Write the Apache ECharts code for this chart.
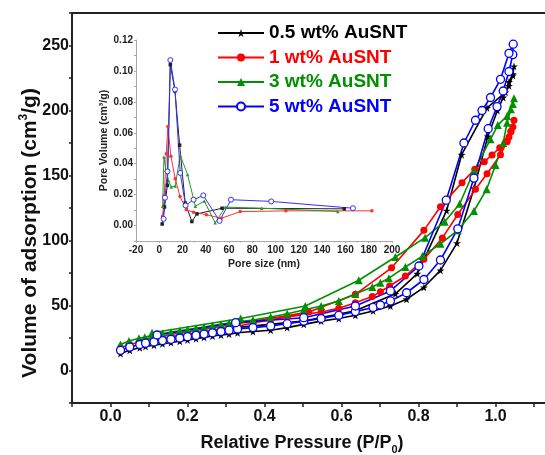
<!DOCTYPE html>
<html>
<head>
<meta charset="utf-8">
<script src="https://cdn.jsdelivr.net/npm/echarts@6/dist/echarts.min.js"></script>
<style>html,body{margin:0;padding:0;background:#fff;}#c{width:545px;height:455px;}</style>
</head>
<body>
<div id="c"></div>
<script>
// ---------- data: main isotherms [P/P0, volume] (adsorption then desorption) ----------
const names = ['0.5 wt% AuSNT', '1 wt% AuSNT', '3 wt% AuSNT', '5 wt% AuSNT'];

const ads05 = [[0.026,13],[0.05,15.5],[0.076,17.5],[0.091,18.5],[0.113,19.5],[0.135,20.5],[0.157,21.5],[0.18,22.5],[0.2,23.5],[0.222,24.5],[0.243,25.5],[0.265,26.5],[0.287,27.3],[0.308,28],[0.33,29],[0.37,30],[0.416,31],[0.459,33],[0.502,35.5],[0.547,38],[0.593,40],[0.636,42.5],[0.682,45.8],[0.727,49.6],[0.769,54.8],[0.814,64],[0.857,77],[0.9,98],[0.944,140],[0.98,180],[1.005,200],[1.02,210],[1.035,219],[1.045,227],[1.048,234]];
const des05 = [[1.045,228],[1.035,222],[1.026,214],[0.978,202],[0.912,166],[0.873,123],[0.797,74.5],[0.74,59],[0.636,46],[0.502,38],[0.325,33],[0.12,24]];

const ads1 = [[0.026,17.5],[0.05,20],[0.076,22],[0.091,23],[0.113,24],[0.135,25],[0.157,26],[0.18,27],[0.2,28],[0.222,29],[0.243,30],[0.265,31],[0.287,32],[0.308,33],[0.33,34],[0.37,36.5],[0.416,38.8],[0.459,41.2],[0.502,43],[0.547,45],[0.593,47.8],[0.636,52.2],[0.68,57],[0.701,60.6],[0.725,65],[0.766,72.7],[0.814,85.5],[0.862,102],[0.902,120],[0.948,139.4],[0.978,151.4],[1.013,166],[1.03,176],[1.04,184],[1.048,192.5]];
const des1 = [[1.045,187.3],[1.04,183.7],[1.035,179.6],[1.03,176.5],[1.011,171.4],[0.991,165.8],[0.971,160.6],[0.946,154.8],[0.913,144.5],[0.857,126],[0.814,107.8],[0.73,79],[0.636,58.6],[0.515,45],[0.33,36],[0.12,26]];

const ads3 = [[0.026,20],[0.048,22.7],[0.074,24.8],[0.089,25.5],[0.106,27],[0.135,28.5],[0.157,29.5],[0.18,30.5],[0.2,31.5],[0.222,32.5],[0.243,33.5],[0.265,34.5],[0.287,35.5],[0.308,36.5],[0.33,37.5],[0.37,38.8],[0.416,41.2],[0.459,43.7],[0.502,46.5],[0.547,49.6],[0.593,53.5],[0.636,58.8],[0.68,64.2],[0.701,67.5],[0.723,71],[0.766,79.6],[0.81,88],[0.857,97.5],[0.902,107.8],[0.944,122.7],[0.977,139.4],[1.0,158],[1.02,175],[1.03,190.6],[1.04,200.9],[1.048,209.4]];
const des3 = [[1.045,205],[1.03,195.8],[1.006,188.8],[0.987,177.8],[0.944,153.5],[0.907,128.3],[0.868,114.5],[0.817,102.2],[0.74,87.3],[0.645,69.4],[0.506,49.6],[0.338,40],[0.108,29]];

const ads5 = [[0.026,15.5],[0.05,18],[0.076,20],[0.091,21],[0.113,22],[0.135,23],[0.157,24],[0.18,25],[0.2,26],[0.222,27],[0.243,28],[0.265,29],[0.287,30],[0.308,31],[0.33,32],[0.37,33],[0.416,34.3],[0.459,36],[0.502,38],[0.547,40],[0.593,42.5],[0.636,45.3],[0.682,48.5],[0.701,50.4],[0.727,53.5],[0.769,59.8],[0.814,70],[0.857,85],[0.902,109],[0.944,148],[0.981,186],[1.004,203],[1.02,215],[1.035,230],[1.045,243],[1.046,251]];
const des5 = [[1.035,244],[1.013,224],[0.987,210],[0.965,200],[0.948,192.5],[0.918,175],[0.872,131],[0.801,80.4],[0.727,61.2],[0.636,49.6],[0.502,40.6],[0.325,36.8],[0.121,27.3]];

// ---------- data: inset pore size distribution [pore size nm, pore volume] ----------
const pore05 = [[2.5,0.001],[4.5,0.012],[7,0.026],[9.5,0.104],[13.5,0.087],[17.5,0.052],[22.3,0.0145],[28,0.0026],[32.4,0.0075],[54,0.0112],[159,0.0108]];
const pore1 = [[2.9,0.006],[4.3,0.0195],[6,0.0465],[7.4,0.064],[10,0.0448],[13.7,0.0303],[17.8,0.0188],[23.2,0.0102],[29.5,0.0086],[40.5,0.007],[53.3,0.0047],[69.6,0.009],[108.8,0.0095],[182.7,0.0095]];
const pore3 = [[2.9,0.0125],[4,0.0443],[5.7,0.036],[8,0.029],[10.3,0.0249],[13.7,0.0255],[18,0.0454],[24.3,0.033],[31,0.0125],[38.7,0.0158],[48,0.0018],[56.7,0.0119],[88,0.0112],[153.5,0.0091]];
const pore5 = [[3.7,0.0043],[4.9,0.018],[7.1,0.035],[9.5,0.107],[13.5,0.088],[18,0.034],[22.6,0.013],[29.5,0.0167],[37.8,0.0195],[51.8,0.003],[61.6,0.0167],[96.2,0.0156],[166.4,0.0112]];

const colors = ['#000000', '#ff0000', '#009000', '#0000ff'];
const insetColors = ['#222222', '#ff3030', '#2a9a2a', '#3030ff'];

// ---------- chart ----------
const FONT = '"Liberation Sans", Arial, sans-serif';
const chart = echarts.init(document.getElementById('c'), null, {renderer: 'canvas'});

const mainData = [ads05.concat(des05), ads1.concat(des1), ads3.concat(des3), ads5.concat(des5)];
const insetData = [pore05, pore1, pore3, pore5];
const mainSym = [
  {symbol: 'path://M50,0 L61,35 L98,35 L68,57 L79,91 L50,70 L21,91 L32,57 L2,35 L39,35 Z', size: 8, fill: '#000'},
  {symbol: 'circle', size: 7, fill: '#ff0000'},
  {symbol: 'triangle', size: 8, fill: '#009000'},
  {symbol: 'circle', size: 8, fill: '#ffffff'}
];

const series = [];
for (let i = 0; i < 4; i++) {
  series.push({
    name: names[i], type: 'line', xAxisIndex: 0, yAxisIndex: 0,
    data: mainData[i], symbol: mainSym[i].symbol, symbolSize: mainSym[i].size,
    showAllSymbol: true, animation: false,
    lineStyle: {color: colors[i], width: 1.6},
    itemStyle: {color: mainSym[i].fill, borderColor: colors[i], borderWidth: i === 3 ? 1.3 : 0}
  });
}
for (let i = 0; i < 4; i++) {
  series.push({
    name: 'inset ' + names[i], type: 'line', xAxisIndex: 2, yAxisIndex: 1,
    data: insetData[i], symbol: i === 3 ? 'circle' : (i === 2 ? 'triangle' : (i === 0 ? 'rect' : 'circle')),
    symbolSize: i === 3 ? 5 : 3.5, showAllSymbol: true, animation: false,
    lineStyle: {color: insetColors[i], width: 1},
    itemStyle: {color: i === 3 ? '#ffffff' : insetColors[i], borderColor: insetColors[i], borderWidth: i === 3 ? 1 : 0}
  });
}

const option = {
  backgroundColor: '#ffffff',
  animation: false,
  textStyle: {fontFamily: FONT},
  legend: {
    orient: 'vertical', left: 212, top: 18,
    itemWidth: 46, itemHeight: 10, itemGap: 4.5,
    textStyle: {fontSize: 19, fontWeight: 'bold', fontFamily: FONT, lineHeight: 20},
    data: names.map((n, i) => ({name: n, textStyle: {color: colors[i]}}))
  },
  grid: [
    {left: 72, right: -27.5, top: 13, bottom: 52, outerBoundsMode: 'none', containLabel: false},
    {left: 136, right: 153, top: 40, bottom: 214, outerBoundsMode: 'none', containLabel: false}
  ],
  xAxis: [
    {
      type: 'value', gridIndex: 0, min: -0.1, max: 1.2, interval: 0.1,
      axisLine: {show: true, onZero: false, lineStyle: {color: '#222', width: 2}},
      axisTick: {show: true, length: 4, lineStyle: {color: '#222', width: 1.5}},
      splitLine: {show: false},
      axisLabel: {
        margin: 6, color: '#111', fontSize: 16, fontWeight: 'bold', fontFamily: FONT,
        formatter: v => (Math.round(v * 10) % 2 === 0 && v >= 0 && v <= 1.0001) ? v.toFixed(1) : ''
      }
    },
    {
      type: 'value', gridIndex: 0, position: 'top', min: -0.1, max: 1.2,
      axisLine: {show: true, onZero: false, lineStyle: {color: '#222', width: 2}},
      axisTick: {show: false}, axisLabel: {show: false}, splitLine: {show: false}
    },
    {
      type: 'value', gridIndex: 1, min: -20, max: 200, interval: 20,
      name: 'Pore size (nm)', nameLocation: 'middle', nameGap: 18,
      nameTextStyle: {fontSize: 10.5, fontWeight: 'bold', color: '#222', fontFamily: FONT},
      axisLine: {show: true, onZero: false, lineStyle: {color: '#aaaaaa', width: 1}},
      axisTick: {show: true, length: 2, lineStyle: {color: '#aaaaaa'}},
      minorTick: {show: true, splitNumber: 2, length: 1.5, lineStyle: {color: '#aaaaaa'}},
      splitLine: {show: false},
      axisLabel: {margin: 4, fontSize: 10, fontWeight: 'bold', color: '#222', fontFamily: FONT}
    }
  ],
  yAxis: [
    {
      type: 'value', gridIndex: 0, min: -25, max: 275, interval: 25,
      axisLine: {show: true, onZero: false, lineStyle: {color: '#222', width: 2}},
      axisTick: {show: true, length: 3, lineStyle: {color: '#222', width: 1.5}},
      splitLine: {show: false},
      axisLabel: {
        margin: 3, color: '#111', fontSize: 16, fontWeight: 'bold', fontFamily: FONT,
        formatter: v => (v >= 0 && v <= 250 && Math.round(v) % 50 === 0) ? String(v) : ''
      }
    },
    {
      type: 'value', gridIndex: 1, min: -0.01, max: 0.12, interval: 0.01,
      name: 'Pore Volume (cm³/g)', nameLocation: 'middle', nameGap: 24,
      nameTextStyle: {fontSize: 10.5, fontWeight: 'bold', color: '#222', fontFamily: FONT},
      axisLine: {show: true, onZero: false, lineStyle: {color: '#aaaaaa', width: 1}},
      axisTick: {show: true, length: 2, lineStyle: {color: '#aaaaaa'}},
      splitLine: {show: false},
      axisLabel: {
        margin: 3, fontSize: 10, fontWeight: 'bold', color: '#222', fontFamily: FONT,
        formatter: v => (Math.round(v * 100) % 2 === 0 && v > -0.005) ? v.toFixed(2) : ''
      }
    }
  ],
  graphic: [
    {
      type: 'text', x: 30, y: 233, rotation: Math.PI / 2,
      style: {
        text: 'Volume of adsorption (cm{sup|3}/g)',
        font: 'bold 21px ' + FONT, fill: '#111',
        align: 'center', verticalAlign: 'middle', lineHeight: 24,
        rich: {sup: {fontSize: 12, fontWeight: 'bold', fontFamily: FONT, fill: '#111', verticalAlign: 'top', lineHeight: 24}}
      }
    },
    {
      type: 'text', x: 302, y: 443,
      style: {
        text: 'Relative Pressure (P/P{sub|0})',
        font: 'bold 18px ' + FONT, fill: '#111',
        align: 'center', verticalAlign: 'middle', lineHeight: 24,
        rich: {sub: {fontSize: 11, fontWeight: 'bold', fontFamily: FONT, fill: '#111', verticalAlign: 'bottom', lineHeight: 24}}
      }
    }
  ],
  series: series
};
chart.setOption(option);
</script>
</body>
</html>
